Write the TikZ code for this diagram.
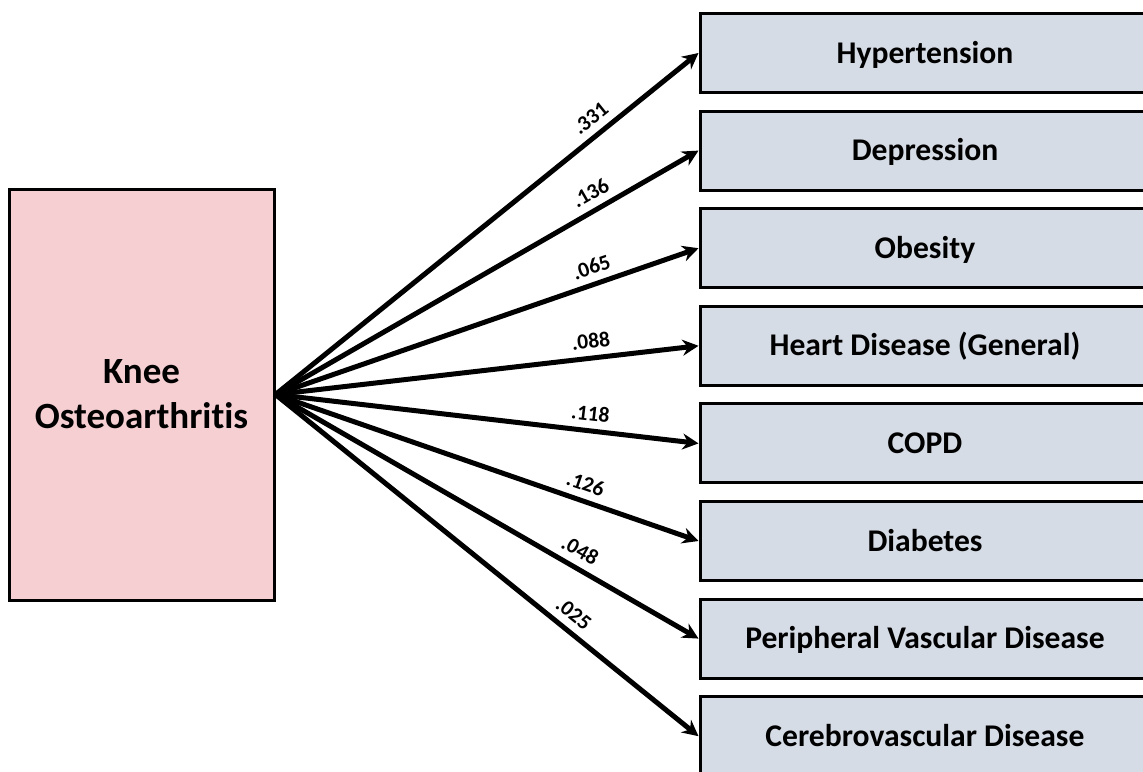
\documentclass[tikz,border=0pt]{standalone}
\usepackage{fontspec}
\setmainfont{Carlito}[RawFeature={-liga;-dlig}]
\usetikzlibrary{arrows.meta}
\definecolor{kneepink}{HTML}{F5CFD2}
\definecolor{condgray}{HTML}{D6DCE5}

\begin{document}
\begin{tikzpicture}[x=1pt,y=-1pt,
	cond/.style={rectangle,draw,line width=3pt,fill=condgray,minimum width=450pt,minimum height=79pt,text height=20.3pt,text depth=0pt,font=\fontsize{31.6}{38}\selectfont\bfseries},
	link/.style={-{Stealth[length=16pt,width=16pt]},line width=5pt},
	coef/.style={sloped,above=4pt,font=\fontsize{21.5}{25}\selectfont\bfseries}]
\useasboundingbox (0,0) rectangle (1143,771);
\clip (0,0) rectangle (1143,771);
	\draw (141.5,394.5) node[draw,line width=3pt,fill=kneepink,minimum width=265pt,minimum height=411pt,align=center,font=\fontsize{37}{45}\selectfont\bfseries] (KO) {Knee\\Osteoarthritis};
	\draw (925, 53.0) node[cond] (HT)  {Hypertension};
	\draw (925,150.6) node[cond] (DP)  {Depression};
	\draw (925,248.2) node[cond] (OB)  {Obesity};
	\draw (925,345.8) node[cond] (HD)  {Heart Disease (General)};
	\draw (925,443.4) node[cond] (CO)  {COPD};
	\draw (925,541.0) node[cond] (DB)  {Diabetes};
	\draw (925,638.6) node[cond] (PVD) {Peripheral Vascular Disease};
	\draw (925,736.2) node[cond] (CVD) {Cerebrovascular Disease};
	\draw (KO.east) edge[link] node[coef,pos=.77]  {.331} (HT.west);
	\draw (KO.east) edge[link] node[coef,pos=.765] {.136} (DP.west);
	\draw (KO.east) edge[link] node[coef,pos=.76]  {.065} (OB.west);
	\draw (KO.east) edge[link] node[coef,pos=.75]  {.088} (HD.west);
	\draw (KO.east) edge[link] node[coef,pos=.74]  {.118} (CO.west);
	\draw (KO.east) edge[link] node[coef,pos=.72]  {.126} (DB.west);
	\draw (KO.east) edge[link] node[coef,pos=.70]  {.048} (PVD.west);
	\draw (KO.east) edge[link] node[coef,pos=.68]  {.025} (CVD.west);
\end{tikzpicture}
\end{document}
